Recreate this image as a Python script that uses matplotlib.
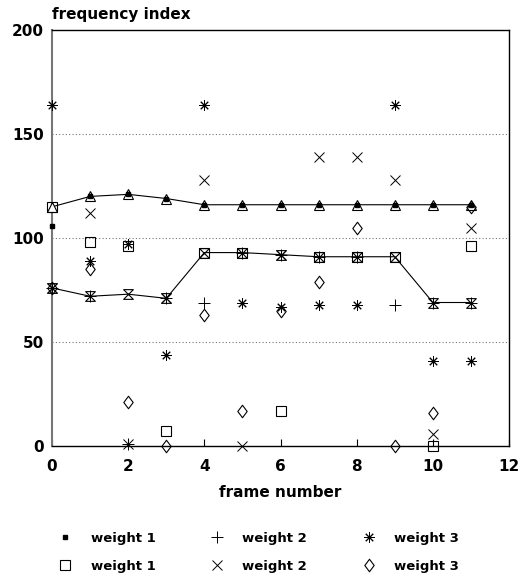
import matplotlib
matplotlib.use("Agg")
import matplotlib.pyplot as plt
from matplotlib.path import Path
import numpy as np

plt.rcParams['font.family'] = ['DejaVu Sans']
plt.rcParams['font.weight'] = 'bold'

frames = list(range(12))
upper_line = [115, 120, 121, 119, 116, 116, 116, 116, 116, 116, 116, 116]
lower_line = [76, 72, 73, 71, 93, 93, 92, 91, 91, 91, 69, 69]

w1_dot = [106, 120, 121, 119, 116, 116, 116, 116, 116, 116, 116, 116]
w2_plus = [76, 72, 1, 71, 69, 93, 92, 91, 91, 68, 69, 69]
w3_star = [164, 89, 97, 44, 164, 69, 67, 68, 68, 164, 41, 41]
w1_square = [115, 98, 96, 7, 93, 93, 17, 91, 91, 91, 0, 96]
w2_x = [76, 112, 1, 71, 128, 0, 92, 139, 139, 128, 6, 105]
w3_diamond = [76, 85, 21, 0, 63, 17, 65, 79, 105, 0, 16, 115]
labels = ['weight 1', 'weight 2', 'weight 3', 'weight 1', 'weight 2', 'weight 3']

xticks = [0, 2, 4, 6, 8, 10, 12]
yticks = [0, 50, 100, 150, 200]

hourglass = Path([(-1, 1), (1, 1), (-1, -1), (1, -1), (-1, 1)],
                 [Path.MOVETO, Path.LINETO, Path.LINETO, Path.LINETO, Path.CLOSEPOLY])
diamond = Path([(0, 1), (0.75, 0), (0, -1), (-0.75, 0), (0, 1)],
               [Path.MOVETO, Path.LINETO, Path.LINETO, Path.LINETO, Path.CLOSEPOLY])

fig = plt.figure(figsize=(5.2, 5.73), dpi=100)
ax = fig.add_axes([0.1, 0.2216, 0.879, 0.726])

lw = 0.8
ax.plot(frames, upper_line, color='black', lw=lw, marker='^', ms=7.5,
        mfc='white', mec='black', mew=0.8, clip_on=False, zorder=3)
ax.plot(frames, lower_line, color='black', lw=lw, marker=hourglass, ms=7,
        mfc='none', mec='black', mew=0.8, clip_on=False, zorder=3)

common = dict(ls='none', color='black', clip_on=False, zorder=4)
h1, = ax.plot(frames, w1_dot, marker='s', ms=2.5, mfc='black', mec='black', label=labels[0], **common)
h2, = ax.plot(frames, w2_plus, marker='+', ms=8.5, mew=0.7, label=labels[1], **common)
h3, = ax.plot(frames, w3_star, marker=(8, 2, 0), ms=7.5, mew=0.7, label=labels[2], **common)
h4, = ax.plot(frames, w1_square, marker='s', ms=6.5, mfc='none', mew=0.8, label=labels[3], **common)
h5, = ax.plot(frames, w2_x, marker='x', ms=6.5, mew=0.7, label=labels[4], **common)
h6, = ax.plot(frames, w3_diamond, marker=diamond, ms=9, mfc='none', mew=0.8, label=labels[5], **common)

ax.set_xlim(0, 12)
ax.set_ylim(0, 200)
ax.set_xticks(xticks)
ax.set_yticks(yticks)
ax.tick_params(axis='x', direction='in', length=5, width=0.8, labelsize=11, pad=9)
ax.tick_params(axis='y', length=0, labelsize=11, pad=6)
for lab in ax.get_xticklabels() + ax.get_yticklabels():
    lab.set_fontweight('bold')
for yv in [50, 100, 150]:
    ax.axhline(yv, color='#777777', lw=0.8, ls=(0, (1, 2)), zorder=1)

for s in ['top', 'right', 'bottom']:
    ax.spines[s].set_linewidth(1.0)
    ax.spines[s].set_color('black')
ax.spines['left'].set_linewidth(1.5)
ax.spines['left'].set_color('#777777')

ax.set_xlabel('frame number', fontsize=11, fontweight='bold', labelpad=8)
fig.text(0.1, 0.974, 'frequency index', fontsize=11, fontweight='bold', ha='left', va='center')

handles = [h1, h4, h2, h5, h3, h6]
fig.legend(handles, [h.get_label() for h in handles], ncol=3, frameon=False,
           loc='center', bbox_to_anchor=(0.498, 0.036), fontsize=9.5,
           handlelength=1.0, handletextpad=1.4, columnspacing=4.2, labelspacing=1.15)

fig.savefig('out.png', dpi=100)
